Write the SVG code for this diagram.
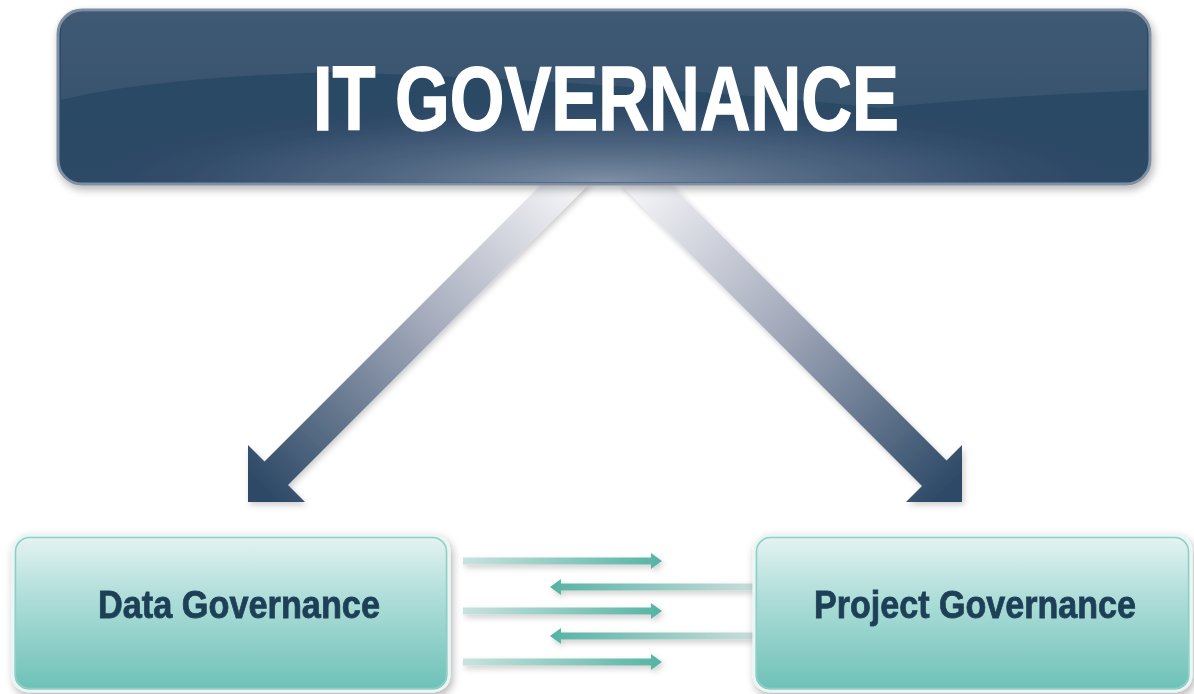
<svg xmlns="http://www.w3.org/2000/svg" width="1194" height="694" viewBox="0 0 1194 694">
<style>
.title{font-family:"Liberation Sans",Arial,sans-serif;font-weight:bold;fill:#ffffff;stroke:#ffffff;stroke-width:1.5}
.lbl{font-family:"Liberation Sans",Arial,sans-serif;font-weight:bold;fill:#1f3f57;stroke:#1f3f57;stroke-width:0.8}
.tealbox{fill:url(#tealGrad);stroke:#e9f6f4;stroke-width:3}
.tealedge{fill:none;stroke:#8fcfc6;stroke-width:1.5}
</style>
<defs>
<linearGradient id="navyGrad" x1="0" y1="0" x2="0" y2="1">
<stop offset="0" stop-color="#2a4864"/>
<stop offset="1" stop-color="#2d4866"/>
</linearGradient>
<radialGradient id="glow2" cx="0.5" cy="1" r="0.5" fx="0.5" fy="1">
<stop offset="0" stop-color="#9aa8bc" stop-opacity="0.75"/>
<stop offset="0.6" stop-color="#6d7f98" stop-opacity="0.3"/>
<stop offset="1" stop-color="#2b4966" stop-opacity="0"/>
</radialGradient>
<linearGradient id="gloss" x1="0" y1="0" x2="0" y2="1">
<stop offset="0" stop-color="#ffffff" stop-opacity="0.10"/>
<stop offset="1" stop-color="#ffffff" stop-opacity="0.06"/>
</linearGradient>
<linearGradient id="tealGrad" x1="0" y1="0" x2="0" y2="1">
<stop offset="0" stop-color="#e6f4f3"/>
<stop offset="0.35" stop-color="#b5e0dc"/>
<stop offset="1" stop-color="#6cc1b7"/>
</linearGradient>
<linearGradient id="arrowL" gradientUnits="userSpaceOnUse" x1="566" y1="183" x2="262" y2="487">
<stop offset="0" stop-color="#f4f4f7"/>
<stop offset="0.45" stop-color="#a6acbd"/>
<stop offset="1" stop-color="#2e4a67"/>
</linearGradient>
<linearGradient id="arrowR" gradientUnits="userSpaceOnUse" x1="644" y1="183" x2="948" y2="487">
<stop offset="0" stop-color="#f4f4f7"/>
<stop offset="0.45" stop-color="#a6acbd"/>
<stop offset="1" stop-color="#2e4a67"/>
</linearGradient>
<linearGradient id="linkR" x1="0" y1="0" x2="1" y2="0">
<stop offset="0" stop-color="#c9e2de"/>
<stop offset="1" stop-color="#55b3a3"/>
</linearGradient>
<linearGradient id="linkL" x1="1" y1="0" x2="0" y2="0">
<stop offset="0" stop-color="#c9dcda"/>
<stop offset="1" stop-color="#55b3a3"/>
</linearGradient>
<filter id="shadow" x="-10%" y="-10%" width="120%" height="130%">
<feGaussianBlur in="SourceAlpha" stdDeviation="4"/>
<feOffset dx="2" dy="4" result="b"/>
<feComponentTransfer><feFuncA type="linear" slope="0.3"/></feComponentTransfer>
<feMerge><feMergeNode/><feMergeNode in="SourceGraphic"/></feMerge>
</filter>
<filter id="soft" x="-10%" y="-10%" width="120%" height="130%">
<feGaussianBlur in="SourceAlpha" stdDeviation="3"/>
<feOffset dx="2" dy="3"/>
<feComponentTransfer><feFuncA type="linear" slope="0.2"/></feComponentTransfer>
<feMerge><feMergeNode/><feMergeNode in="SourceGraphic"/></feMerge>
</filter>
</defs>
<rect width="1194" height="694" fill="#ffffff"/>

<g id="connectors">
<g filter="url(#soft)">
<polygon id="arrow-left" points="543,183 590,183 288,485 305,502 248,502 248,445 264.5,461.5" fill="url(#arrowL)"/>
<polygon id="arrow-right" points="619,183 669,183 946.5,460.5 962,445 962,502 906,502 922,486" fill="url(#arrowR)"/>
</g>
<g filter="url(#soft)">
<polygon points="463,557.5 651,557.5 651,553 662,561 651,569 651,564.5 463,564.5" fill="url(#linkR)"/>
<polygon points="753,583.5 561,583.5 561,579 550,587 561,595 561,590.5 753,590.5" fill="url(#linkL)"/>
<polygon points="463,607.5 651,607.5 651,603 662,611 651,619 651,614.5 463,614.5" fill="url(#linkR)"/>
<polygon points="753,632.5 561,632.5 561,628 550,636 561,644 561,639.5 753,639.5" fill="url(#linkL)"/>
<polygon points="463,658.5 651,658.5 651,654 662,662 651,670 651,665.5 463,665.5" fill="url(#linkR)"/>
</g>
</g>

<g id="node-it-governance" filter="url(#shadow)">
<rect x="58" y="10" width="1092" height="174" rx="24" fill="url(#navyGrad)" stroke="#7e8ea3" stroke-width="3"/>
<rect x="60" y="12" width="1088" height="170" rx="22" fill="url(#glow2)"/>
<path d="M82,12 L1126,12 Q1147,12 1147,34 L1147,90 Q1000,96 880,108 Q600,80 330,72 Q150,78 61,100 L61,34 Q61,12 82,12 Z" fill="url(#gloss)"/>
<text class="title" x="313" y="130" font-size="90" textLength="586" lengthAdjust="spacingAndGlyphs">IT GOVERNANCE</text>
</g>

<g id="node-data-governance" filter="url(#shadow)">
<rect class="tealbox" x="13" y="535" width="436" height="156" rx="16"/>
<rect class="tealedge" x="15.5" y="537.5" width="431" height="151" rx="14"/>
<text class="lbl" x="98" y="618" font-size="38" textLength="282" lengthAdjust="spacingAndGlyphs">Data Governance</text>
</g>

<g id="node-project-governance" filter="url(#shadow)">
<rect class="tealbox" x="754" y="535" width="437" height="156" rx="16"/>
<rect class="tealedge" x="756.5" y="537.5" width="432" height="151" rx="14"/>
<text class="lbl" x="814" y="618" font-size="38" textLength="322" lengthAdjust="spacingAndGlyphs">Project Governance</text>
</g>
</svg>
